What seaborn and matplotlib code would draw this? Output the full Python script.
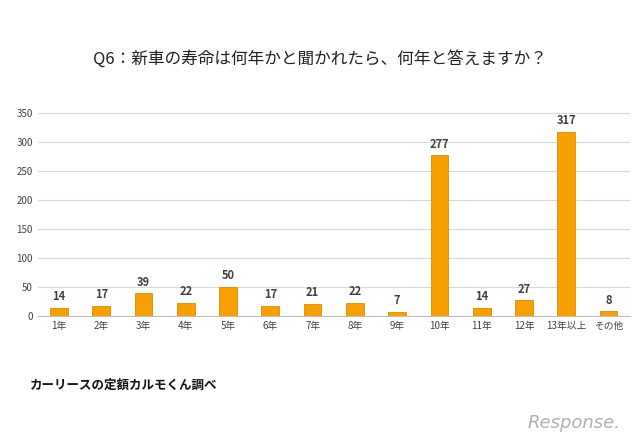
import matplotlib
matplotlib.use("Agg")
import matplotlib.pyplot as plt
import seaborn as sns
import pandas as pd

plt.rcParams["font.family"] = "Noto Sans CJK JP"

categories = ["1年", "2年", "3年", "4年", "5年", "6年", "7年", "8年", "9年",
              "10年", "11年", "12年", "13年以上", "その他"]
counts = [14, 17, 39, 22, 50, 17, 21, 22, 7, 277, 14, 27, 317, 8]
yticks = [0, 50, 100, 150, 200, 250, 300, 350]

df = pd.DataFrame({"year": categories, "count": counts})

fig = plt.figure(figsize=(6.4, 4.43), dpi=100)
ax = fig.add_axes([0.059, 0.287, 0.925, 0.458])

sns.barplot(data=df, x="year", y="count", color="#F7A000", width=0.42,
            edgecolor="#E08A00", linewidth=0.6, ax=ax, saturation=1)

for i, v in enumerate(counts):
    ax.text(i, v + 8, str(v), ha="center", va="bottom", fontsize=8,
            fontweight="bold", color="#404040")

ax.set_ylim(0, 350)
ax.set_yticks(yticks)
ax.yaxis.grid(True, color="#D9D9D9", linewidth=0.8)
ax.set_axisbelow(True)
ax.set_xlabel("")
ax.set_ylabel("")
ax.tick_params(axis="both", labelsize=7, colors="#404040", length=0)
for s in ["top", "right", "left"]:
    ax.spines[s].set_visible(False)
ax.spines["bottom"].set_color("#BFBFBF")

fig.text(0.5, 0.868, "Q6：新車の寿命は何年かと聞かれたら、何年と答えますか？",
         ha="center", va="center", fontsize=12, color="#222222")
fig.text(0.047, 0.13, "カーリースの定額カルモくん調べ", ha="left", va="center",
         fontsize=9, fontweight="bold", color="#111111")
fig.text(0.97, 0.045, "Response.", ha="right", va="center", fontsize=13,
         fontstyle="italic", color="#B0B0B0", fontfamily="DejaVu Sans")

fig.savefig("out.png", dpi=100)
